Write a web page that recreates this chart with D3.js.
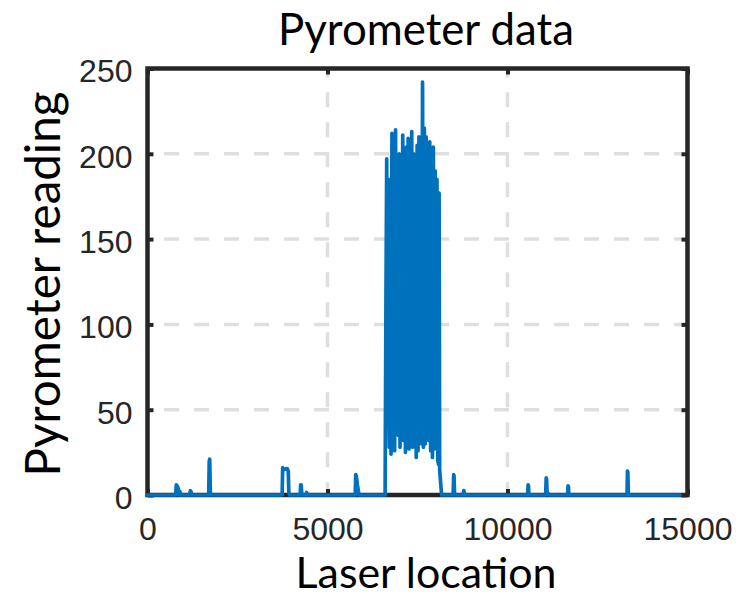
<!DOCTYPE html>
<html>
<head>
<meta charset="utf-8">
<script src="https://cdn.jsdelivr.net/npm/d3@7"></script>
<style>
  html, body { margin: 0; padding: 0; background: #ffffff; }
  svg { display: block; }
</style>
</head>
<body>
<svg id="chart" width="748" height="596"></svg>
<script>
// ---- data ----
const titleText = "Pyrometer data";
const xLabelText = "Laser location";
const yLabelText = "Pyrometer reading";
const xTicks = [0, 5000, 10000, 15000];
const yTicks = [0, 50, 100, 150, 200, 250];
const xGrid = [5000, 10000];
const yGrid = [50, 100, 150, 200];

// laser location / pyrometer reading along the scan
const locations = [
  0, 780, 800, 833, 850, 880, 900, 930, 1170, 1190, 1210, 1230,
  1700, 1715, 1728, 1745, 1760,
  3740, 3755, 3770, 3800, 3880, 3910, 3925, 3945,
  4240, 4255, 4268, 4285, 4300, 4400, 4420, 4440,
  5770, 5785, 5800, 5830, 5860, 5880,
  6600, 6625, 6645, 6665, 6690, 6715, 6740, 6765, 6790, 6815, 6840, 6865,
  6890, 6915, 6940, 6965, 6990, 7015, 7040, 7065, 7090, 7115, 7140, 7165,
  7190, 7215, 7240, 7265, 7290, 7315, 7340, 7365, 7390, 7415, 7440, 7465,
  7490, 7515, 7540, 7565, 7590, 7615, 7640, 7665, 7690, 7715, 7740, 7765,
  7790, 7815, 7840, 7865, 7890, 7915, 7940, 7965, 7990, 8015, 8040, 8065,
  8085, 8100, 8115, 8140, 8170,
  8490, 8505, 8515, 8530, 8770, 8785, 8795, 8810,
  10560, 10572, 10582, 10595, 11060, 11075, 11085, 11100, 11130, 11150,
  11670, 11682, 11692, 11705, 13320, 13333, 13343, 13358, 14790
];
const readings = [
  0, 0, 6, 5, 4, 0, 2, 0, 0, 2.5, 2, 0,
  0, 20, 21, 2, 0,
  0, 16, 15.5, 15, 15.5, 14, 2, 0,
  0, 6, 6, 1, 0, 0, 1.5, 0,
  0, 12, 11, 6, 2, 0,
  0, 120, 197, 40, 150, 28, 185, 24, 212, 30, 205, 26,
  214, 45, 190, 35, 200, 28, 185, 60, 211, 32, 190, 25,
  204, 30, 209, 27, 195, 33, 213, 28, 200, 50, 180, 22,
  205, 26, 210, 35, 200, 30, 242, 28, 215, 30, 210, 55,
  200, 32, 207, 26, 195, 22, 204, 27, 190, 40, 185, 20,
  18, 177, 15, 8, 0,
  0, 12, 11, 0, 0, 2.6, 2, 0,
  0, 6, 5.5, 0, 0, 10, 9, 1, 1, 0,
  0, 5.3, 5, 0, 0, 14, 13, 0, 0
];

// ---- layout ----
const svg = d3.select("#chart");
const L = 147.5, R = 687.5, T = 68.5, B = 495;
const axisColor = "#262626";
const lineColor = "#0072BD";

const x = d3.scaleLinear().domain([0, 15000]).range([L, R]);
const y = d3.scaleLinear().domain([0, 250]).range([B, T]);

// grid
const grid = svg.append("g");
grid.selectAll("line.h").data(yGrid).join("line")
  .attr("x1", L).attr("x2", R)
  .attr("y1", d => y(d)).attr("y2", d => y(d))
  .attr("stroke", "#dfdfdf").attr("stroke-width", 3.5)
  .attr("stroke-dasharray", "15 15").attr("stroke-dashoffset", 13.5);
grid.selectAll("line.v").data(xGrid).join("line")
  .attr("x1", d => x(d)).attr("x2", d => x(d))
  .attr("y1", T).attr("y2", B)
  .attr("stroke", "#dfdfdf").attr("stroke-width", 3.5)
  .attr("stroke-dasharray", "15 15").attr("stroke-dashoffset", 6.3);

// axes with inward ticks (box)
const fontTick = "'Liberation Sans', Arial, sans-serif";
const gx = svg.append("g").attr("transform", `translate(0,${B})`)
  .call(d3.axisBottom(x).tickValues(xTicks).tickSizeInner(-6).tickSizeOuter(0).tickPadding(22).tickFormat(d3.format("d")));
const gxt = svg.append("g").attr("transform", `translate(0,${T})`)
  .call(d3.axisTop(x).tickValues(xTicks).tickSizeInner(-6).tickSizeOuter(0).tickFormat(""));
const gy = svg.append("g").attr("transform", `translate(${L},0)`)
  .call(d3.axisLeft(y).tickValues(yTicks).tickSizeInner(-6).tickSizeOuter(0).tickPadding(15).tickFormat(d3.format("d")));
const gyr = svg.append("g").attr("transform", `translate(${R},0)`)
  .call(d3.axisRight(y).tickValues(yTicks).tickSizeInner(-6).tickSizeOuter(0).tickFormat(""));

[gx, gxt, gy, gyr].forEach(g => {
  g.select(".domain").remove();
  g.selectAll(".tick line").attr("stroke", axisColor).attr("stroke-width", 4);
  g.selectAll(".tick text").attr("fill", axisColor).attr("font-family", fontTick).attr("font-size", 32);
});
gx.selectAll(".tick text").attr("dy", "0.71em");
gy.selectAll(".tick text").attr("dy", "0.42em");

// box
svg.append("rect").attr("x", L).attr("y", T).attr("width", R - L).attr("height", B - T)
  .attr("fill", "none").attr("stroke", axisColor).attr("stroke-width", 4.5);

// data line
const line = d3.line().x((d, i) => x(locations[i])).y(d => y(d));
svg.append("path").datum(readings)
  .attr("d", line)
  .attr("fill", "none").attr("stroke", lineColor).attr("stroke-width", 3.7)
  .attr("stroke-linejoin", "round").attr("stroke-linecap", "round");

// labels (fit width to reference)
const labelFont = "Lato, 'Open Sans', sans-serif";
function fitText(sel, target) {
  const w = sel.node().getComputedTextLength();
  const fs = parseFloat(sel.attr("font-size"));
  sel.attr("font-size", fs * target / w);
}
const title = svg.append("text").text(titleText)
  .attr("x", 426).attr("y", 45).attr("text-anchor", "middle")
  .attr("font-family", labelFont).attr("font-size", 40).attr("fill", "#000");
fitText(title, 296);
const xl = svg.append("text").text(xLabelText)
  .attr("x", 426).attr("y", 588).attr("text-anchor", "middle")
  .attr("font-family", labelFont).attr("font-size", 40).attr("fill", "#000");
fitText(xl, 261);
const yl = svg.append("text").text(yLabelText)
  .attr("transform", "translate(60,284) rotate(-90)").attr("text-anchor", "middle")
  .attr("font-family", labelFont).attr("font-size", 40).attr("fill", "#000");
fitText(yl, 385);
</script>
</body>
</html>
